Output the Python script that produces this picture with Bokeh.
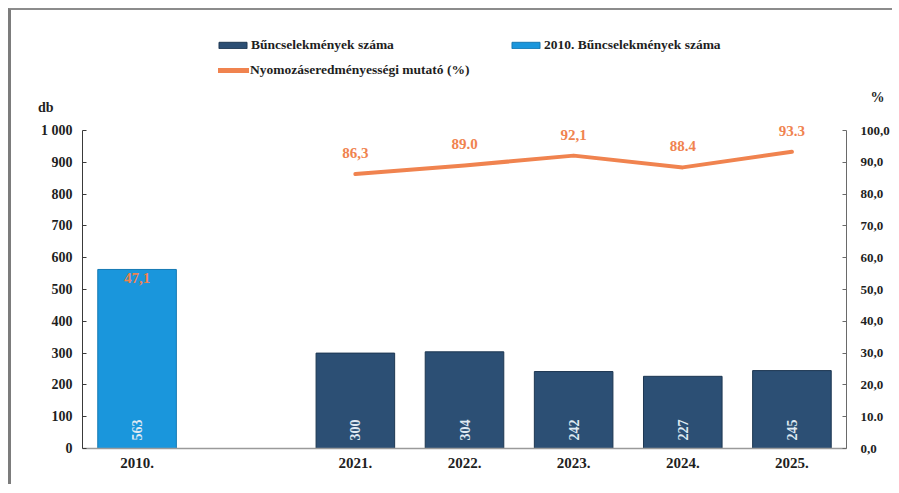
import math
from bokeh.plotting import figure
from bokeh.layouts import column
from bokeh.models import (ColumnDataSource, Range1d, LinearAxis, FixedTicker, Legend,
                          LegendItem, LabelSet, FactorRange)
from bokeh.embed import file_html
from bokeh.resources import INLINE

# ---------------- data ----------------
categories = ["2010.", " ", "2021.", "2022.", "2023.", "2024.", "2025."]
years_recent = ["2021.", "2022.", "2023.", "2024.", "2025."]
crimes_recent = [300, 304, 242, 227, 245]
year_2010 = ["2010."]
crimes_2010 = [563]
rate_cats = ["2010.", " ", "2021.", "2022.", "2023.", "2024.", "2025."]
rate_values = [47.1, float("nan"), 86.3, 89.0, 92.1, 88.4, 93.3]
rate_label_cats = ["2010.", "2021.", "2022.", "2023.", "2024.", "2025."]
rate_label_values = [47.1, 86.3, 89.0, 92.1, 88.4, 93.3]
rate_label_texts = ["47,1", "86,3", "89.0", "92,1", "88.4", "93.3"]
left_ticks = [0, 100, 200, 300, 400, 500, 600, 700, 800, 900, 1000]
left_tick_labels = ["0", "100", "200", "300", "400", "500", "600", "700", "800", "900", "1 000"]
right_ticks = [0, 10, 20, 30, 40, 50, 60, 70, 80, 90, 100]
right_tick_labels = ["0,0", "10.0", "20,0", "30,0", "40,0", "50,0", "60,0", "70,0", "80,0", "90,0", "100,0"]
legend_labels = ["Bűncselekmények száma", "2010. Bűncselekmények száma",
                 "Nyomozáseredményességi mutató (%)"]
left_unit = "db"
right_unit = "%"

# ---------------- style ----------------
FONT = "Liberation Serif"
DARK = "#2c4f74"
BLUE = "#1a96dc"
ORANGE = "#f0834f"
TXT = "#1e1e1e"
W = 881
LEFT_MAX = 1000
RIGHT_MAX = 100
HEAD = 330 / 318  # frame extends slightly above the top tick so labels are not clipped

# ---------------- main chart ----------------
p = figure(width=W, height=368, x_range=FactorRange(*categories),
           y_range=Range1d(0, LEFT_MAX * HEAD), output_backend="svg", toolbar_location=None,
           min_border_left=71, min_border_right=44, min_border_top=2, min_border_bottom=36)
p.outline_line_color = None
p.grid.visible = False
p.background_fill_color = "white"
p.border_fill_color = "white"
p.extra_y_ranges = {"pct": Range1d(0, RIGHT_MAX * HEAD)}

src_recent = ColumnDataSource(dict(x=years_recent, y=crimes_recent,
                                   t=[str(v) for v in crimes_recent], y0=[0] * len(years_recent)))
src_2010 = ColumnDataSource(dict(x=year_2010, y=crimes_2010,
                                 t=[str(v) for v in crimes_2010], y0=[0] * len(year_2010)))
src_rate = ColumnDataSource(dict(x=rate_cats, y=rate_values))
src_rate_lbl = ColumnDataSource(dict(x=rate_label_cats, y=rate_label_values, t=rate_label_texts))

p.vbar(x="x", top="y", width=0.72, source=src_recent, fill_color=DARK,
       line_color="#1d3752", line_width=1)
p.vbar(x="x", top="y", width=0.72, source=src_2010, fill_color=BLUE,
       line_color="#1479b3", line_width=1)
p.line(x="x", y="y", source=src_rate, y_range_name="pct", line_color=ORANGE,
       line_width=4, line_cap="round", line_join="round")

# value labels inside bars (rotated)
for s in (src_recent, src_2010):
    p.add_layout(LabelSet(x="x", y="y0", text="t", source=s, angle=math.pi / 2,
                          text_align="left", text_baseline="middle", y_offset=8,
                          text_font=FONT, text_font_style="bold", text_font_size="14px",
                          text_color="#dfe9f2"))

# line labels
p.add_layout(LabelSet(x="x", y="y", text="t", source=src_rate_lbl, y_range_name="pct",
                      text_align="center", text_baseline="bottom", y_offset=16,
                      text_font=FONT, text_font_style="bold", text_font_size="15px",
                      text_color=ORANGE))

# axes
p.xaxis.axis_line_color = "#9a9a9a"
p.xaxis.axis_line_width = 1.5
p.xaxis.major_tick_line_color = None
p.xaxis.major_tick_out = 0
p.xaxis.major_tick_in = 0
p.xaxis.minor_tick_line_color = None
p.xaxis.major_label_standoff = 6
p.xaxis.major_label_text_font = FONT
p.xaxis.major_label_text_font_style = "bold"
p.xaxis.major_label_text_font_size = "15px"
p.xaxis.major_label_text_color = TXT

ly = p.yaxis[0]
ly.ticker = FixedTicker(ticks=left_ticks)
ly.bounds = (0, LEFT_MAX)
ly.major_label_overrides = {t: l for t, l in zip(left_ticks, left_tick_labels)}
ly.axis_line_color = "#3a3a3a"
ly.major_tick_in = 4
ly.major_tick_out = 0
ly.major_tick_line_color = "#3a3a3a"
ly.minor_tick_line_color = None
ly.major_label_standoff = 10
ly.major_label_text_font = FONT
ly.major_label_text_font_style = "bold"
ly.major_label_text_font_size = "14px"
ly.major_label_text_color = TXT

ry = LinearAxis(y_range_name="pct", ticker=FixedTicker(ticks=right_ticks), bounds=(0, RIGHT_MAX))
ry.major_label_overrides = {t: l for t, l in zip(right_ticks, right_tick_labels)}
ry.axis_line_color = "#6a6a6a"
ry.major_tick_in = 4
ry.major_tick_out = 0
ry.major_tick_line_color = "#6a6a6a"
ry.minor_tick_line_color = None
ry.major_label_standoff = 14
ry.major_label_text_font = FONT
ry.major_label_text_font_style = "bold"
ry.major_label_text_font_size = "13px"
ry.major_label_text_color = TXT
p.add_layout(ry, "right")

# ---------------- legend strip (above the chart) ----------------
LH = 106
lf = figure(width=W, height=LH, x_range=Range1d(0, 1), y_range=Range1d(0, LH),
            x_axis_type=None, y_axis_type=None, output_backend="svg", toolbar_location=None,
            min_border_left=71, min_border_right=44, min_border_top=0, min_border_bottom=0)
lf.outline_line_color = None
lf.grid.visible = False
lf.border_fill_color = "white"
lf.background_fill_color = "white"

# unit captions placed as single-tick axis labels at the top of each scale
for side, pos, txt, standoff in (("left", 9, left_unit, 29), ("right", 19, right_unit, 24)):
    ax = LinearAxis(ticker=FixedTicker(ticks=[pos]), major_label_overrides={pos: txt})
    ax.axis_line_color = None
    ax.major_tick_line_color = None
    ax.minor_tick_line_color = None
    ax.major_tick_in = 0
    ax.major_tick_out = 0
    ax.major_label_standoff = standoff
    ax.major_label_text_font = FONT
    ax.major_label_text_font_style = "bold"
    ax.major_label_text_font_size = "14px"
    ax.major_label_text_color = TXT
    lf.add_layout(ax, side)

# legend-only renderers (kept outside the visible range)
lg_dark = lf.vbar(x=[-5], top=[-5], bottom=[-6], width=0.1, fill_color=DARK, line_color="#1d3752")
lg_blue = lf.vbar(x=[-5], top=[-5], bottom=[-6], width=0.1, fill_color=BLUE, line_color="#1479b3")
lg_line = lf.line(x=[-6, -5], y=[-5, -5], line_color=ORANGE, line_width=5, line_cap="round")


def add_legend(renderer, label, x, y, gw):
    lg = Legend(items=[LegendItem(label=label, renderers=[renderer])], location=(x, y),
                orientation="horizontal", padding=0, margin=0, spacing=0,
                border_line_alpha=0, background_fill_alpha=0,
                glyph_width=gw, glyph_height=8, label_standoff=1, label_height=16,
                label_text_font=FONT, label_text_font_style="bold",
                label_text_font_size="13.5px", label_text_color=TXT)
    lf.add_layout(lg, "center")


add_legend(lg_dark, legend_labels[0], 133, 63, 35)
add_legend(lg_blue, legend_labels[1], 426, 63, 35)
add_legend(lg_line, legend_labels[2], 136, 38, 31)

layout = column(lf, p, spacing=0)
layout.styles = {"border-top": "2px solid #8c8c8c", "border-left": "3px solid #7c7c7c",
                 "margin-top": "8px", "margin-left": "8px"}

open("out.html", "w").write(file_html(layout, INLINE))
